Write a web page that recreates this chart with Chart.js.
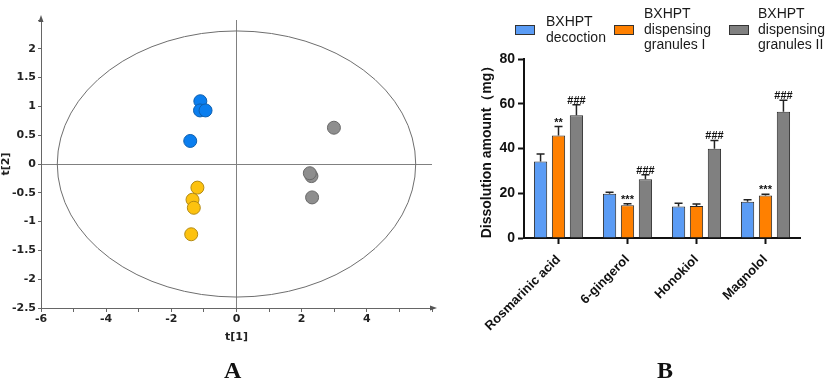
<!DOCTYPE html>
<html>
<head>
<meta charset="utf-8">
<script src="https://cdn.jsdelivr.net/npm/chart.js@4.4.1/dist/chart.umd.min.js"></script>
<style>
  body { margin: 0; background: #fff; width: 827px; height: 380px; position: relative; overflow: hidden; }
  canvas { position: absolute; top: 0; }
  #scoreChart { left: 0; }
  #barChart { left: 460px; }
  .panel { position: absolute; font: bold 24px "Liberation Serif", "Times New Roman", serif; line-height: 24px; color: #111; }
</style>
</head>
<body>
<canvas id="scoreChart" width="450" height="380"></canvas>
<canvas id="barChart" width="367" height="380"></canvas>
<div class="panel" style="left:224px; top:358px">A</div>
<div class="panel" style="left:657px; top:358px">B</div>
<script>
// A: PCA scores, t[1] / t[2]
const decoctionT1 = [-1.11, -1.12, -0.95, -1.42];
const decoctionT2 = [1.09, 0.93, 0.93, 0.40];
const granulesIT1 = [-1.20, -1.35, -1.31, -1.39];
const granulesIT2 = [-0.41, -0.62, -0.76, -1.22];
const granulesIIT1 = [2.30, 2.25, 2.32, 2.99];
const granulesIIT2 = [-0.21, -0.16, -0.58, 0.63];
const ellipseT1 = 5.5;   // Hotelling T2 ellipse radii
const ellipseT2 = 2.31;

// B: dissolution amount (mg), mean and SD
const compounds = ['Rosmarinic acid', '6-gingerol', 'Honokiol', 'Magnolol'];
const decoctionMean = [34.2, 19.8, 14.1, 16.2];
const decoctionSD = [3.3, 0.6, 1.4, 0.9];
const granulesIMean = [45.8, 14.6, 14.3, 19.0];
const granulesISD = [4.0, 0.7, 0.9, 0.5];
const granulesIIMean = [54.9, 26.3, 39.9, 56.4];
const granulesIISD = [4.6, 2.0, 3.7, 5.2];
const decoctionMarks = ['', '', '', ''];
const granulesIMarks = ['**', '***', '', '***'];
const granulesIIMarks = ['###', '###', '###', '###'];
const legendLines = [
  ['BXHPT', 'decoction'],
  ['BXHPT', 'dispensing', 'granules I'],
  ['BXHPT', 'dispensing', 'granules II']
];

const sdSets = [decoctionSD, granulesISD, granulesIISD];
const markSets = [decoctionMarks, granulesIMarks, granulesIIMarks];

const pts = (xs, ys) => xs.map((x, i) => ({ x: x, y: ys[i] }));
const fontA = { family: '"DejaVu Sans", Verdana, sans-serif', size: 11, weight: 'bold' };
const fontB = size => ({ family: '"Liberation Sans", Arial, sans-serif', size: size, weight: 'bold' });

const ellipsePlugin = {
  id: 'ellipse',
  beforeDatasetsDraw(chart) {
    const { ctx, scales: { x, y } } = chart;
    const cx = x.getPixelForValue(0), cy = y.getPixelForValue(0);
    ctx.save();
    ctx.beginPath();
    ctx.ellipse(cx, cy, x.getPixelForValue(ellipseT1) - cx, cy - y.getPixelForValue(ellipseT2), 0, 0, Math.PI * 2);
    ctx.strokeStyle = '#6e6e6e';
    ctx.lineWidth = 1;
    ctx.stroke();
    ctx.restore();
  }
};

const arrowPlugin = {
  id: 'arrows',
  afterDraw(chart) {
    const { ctx, chartArea: a } = chart;
    ctx.save();
    ctx.fillStyle = '#555';
    ctx.beginPath();
    ctx.moveTo(a.left, a.top - 5);
    ctx.lineTo(a.left - 2.5, a.top + 2);
    ctx.lineTo(a.left + 2.5, a.top + 2);
    ctx.fill();
    ctx.beginPath();
    ctx.moveTo(a.right + 5, a.bottom);
    ctx.lineTo(a.right - 2, a.bottom - 2.5);
    ctx.lineTo(a.right - 2, a.bottom + 2.5);
    ctx.fill();
    ctx.restore();
  }
};

new Chart(document.getElementById('scoreChart'), {
  type: 'scatter',
  data: {
    datasets: [
      { data: pts(decoctionT1, decoctionT2), backgroundColor: '#0A7EEF', borderColor: '#0E5FAE' },
      { data: pts(granulesIT1, granulesIT2), backgroundColor: '#FDC20F', borderColor: '#B38A12' },
      { data: pts(granulesIIT1, granulesIIT2), backgroundColor: '#8E8E8E', borderColor: '#686868' }
    ]
  },
  options: {
    responsive: false,
    animation: false,
    layout: { padding: { top: 20, right: 18, left: 0, bottom: 0 } },
    elements: { point: { radius: 6.5, borderWidth: 1 } },
    plugins: { legend: { display: false }, tooltip: { enabled: false } },
    scales: {
      x: {
        type: 'linear', min: -6, max: 6,
        ticks: {
          stepSize: 1, autoSkip: false, maxRotation: 0, padding: 1, color: '#222', font: fontA,
          callback: v => (v % 2 === 0 && v < 6 ? String(v) : '')
        },
        grid: {
          color: c => (c.tick && c.tick.value === 0 ? '#808080' : 'rgba(0,0,0,0)'),
          tickColor: '#666', tickLength: 4
        },
        border: { color: '#666' },
        title: { display: true, text: 't[1]', font: fontA, color: '#222', padding: { top: 0, bottom: 36 } },
        afterFit: s => { s.height = 72; }
      },
      y: {
        min: -2.5, max: 2.5,
        ticks: {
          stepSize: 0.5, autoSkip: false, padding: 2, color: '#222', font: fontA,
          callback: v => (v < 2.5 ? String(Math.round(v * 10) / 10) : '')
        },
        grid: {
          color: c => (c.tick && c.tick.value === 0 ? '#808080' : 'rgba(0,0,0,0)'),
          tickColor: '#666', tickLength: 3
        },
        border: { color: '#666' },
        title: { display: true, text: 't[2]', font: fontA, color: '#222', padding: { top: 0, bottom: 0 } },
        afterFit: s => { s.width = 41; }
      }
    }
  },
  plugins: [ellipsePlugin, arrowPlugin]
});

const errorBarPlugin = {
  id: 'errorBars',
  afterDatasetsDraw(chart) {
    const { ctx, scales: { y } } = chart;
    ctx.save();
    chart.data.datasets.forEach((ds, i) => {
      chart.getDatasetMeta(i).data.forEach((bar, j) => {
        const top = y.getPixelForValue(ds.data[j] + sdSets[i][j]);
        ctx.strokeStyle = '#222';
        ctx.lineWidth = 1.5;
        ctx.beginPath();
        ctx.moveTo(bar.x, bar.y);
        ctx.lineTo(bar.x, top);
        ctx.moveTo(bar.x - 4, top);
        ctx.lineTo(bar.x + 4, top);
        ctx.stroke();
        const mark = markSets[i][j];
        if (mark) {
          ctx.fillStyle = '#111';
          ctx.font = 'bold 11px "Liberation Sans", Arial, sans-serif';
          ctx.textAlign = 'center';
          ctx.textBaseline = 'alphabetic';
          ctx.fillText(mark, bar.x, top - 1);
        }
      });
    });
    ctx.restore();
  }
};

// legend with wrapped labels
const legendBoxX = [55, 154, 269];
const legendTextX = [86, 184, 298];
const legendPlugin = {
  id: 'wrappedLegend',
  afterDraw(chart) {
    const { ctx } = chart;
    const cy = 30, lh = 15.5;
    ctx.save();
    ctx.font = '14px "Liberation Sans", Arial, sans-serif';
    ctx.textAlign = 'left';
    ctx.textBaseline = 'middle';
    chart.data.datasets.forEach((ds, i) => {
      ctx.fillStyle = ds.backgroundColor;
      ctx.fillRect(legendBoxX[i], cy - 5, 20, 10);
      ctx.strokeStyle = '#333';
      ctx.lineWidth = 1;
      ctx.strokeRect(legendBoxX[i] + 0.5, cy - 4.5, 19, 9);
      ctx.fillStyle = '#1a1a1a';
      const lines = legendLines[i];
      lines.forEach((t, k) => {
        ctx.fillText(t, legendTextX[i], cy + (k - (lines.length - 1) / 2) * lh);
      });
    });
    ctx.restore();
  }
};

new Chart(document.getElementById('barChart'), {
  type: 'bar',
  data: {
    labels: compounds,
    datasets: [
      { label: legendLines[0].join(' '), data: decoctionMean, backgroundColor: '#5B9CF5', borderColor: '#2b2b2b', borderWidth: 1 },
      { label: legendLines[1].join(' '), data: granulesIMean, backgroundColor: '#FF8000', borderColor: '#2b2b2b', borderWidth: 1 },
      { label: legendLines[2].join(' '), data: granulesIIMean, backgroundColor: '#808080', borderColor: '#2b2b2b', borderWidth: 1 }
    ]
  },
  options: {
    responsive: false,
    animation: false,
    categoryPercentage: 0.78,
    barPercentage: 0.74,
    layout: { padding: { top: 59, right: 27, left: 0, bottom: 0 } },
    plugins: { legend: { display: false }, tooltip: { enabled: false } },
    scales: {
      x: {
        ticks: { minRotation: 45, maxRotation: 45, autoSkip: false, padding: 8, color: '#111', font: fontB(13) },
        grid: { offset: false, drawOnChartArea: false, tickLength: 6, tickWidth: 2, tickColor: '#111' },
        border: { color: '#111', width: 2 },
        afterFit: s => { s.height = 142; }
      },
      y: {
        min: 0, max: 80,
        ticks: { stepSize: 20, padding: 3, color: '#111', font: fontB(14) },
        grid: { drawOnChartArea: false, tickLength: 6, tickWidth: 2, tickColor: '#111' },
        border: { color: '#111', width: 2 },
        title: { display: true, text: 'Dissolution amount（mg）', color: '#111', font: fontB(14), padding: { top: 19, bottom: 0 } },
        afterFit: s => { s.width = 64; }
      }
    }
  },
  plugins: [errorBarPlugin, legendPlugin]
});
</script>
</body>
</html>
